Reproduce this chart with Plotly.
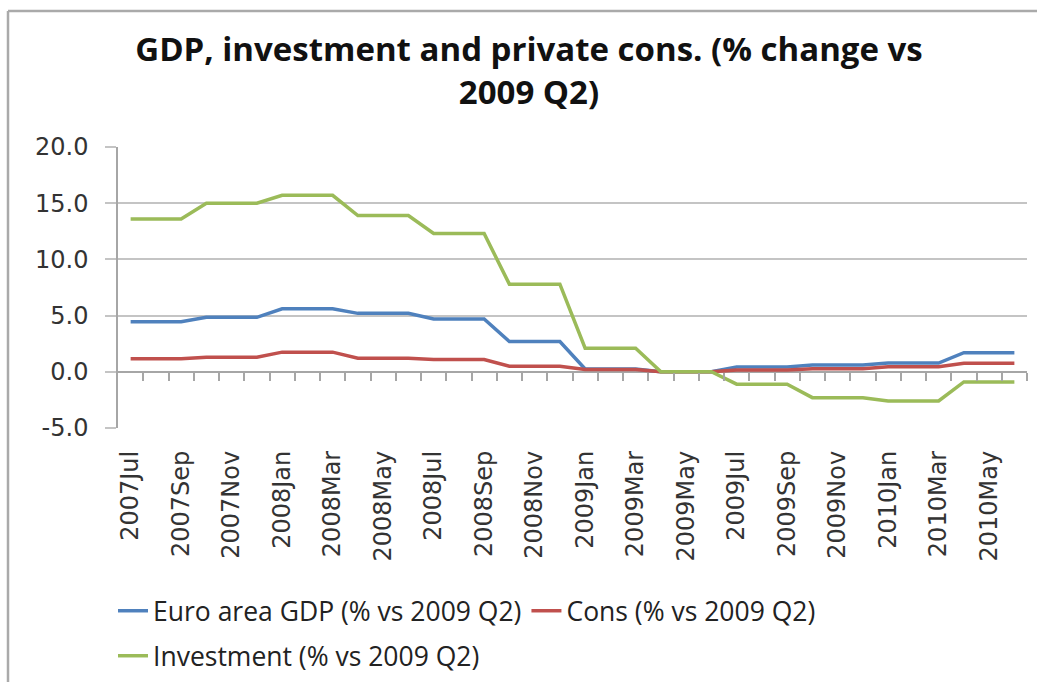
import numpy as np
import plotly.graph_objects as go

# Monthly categories, July 2007 to June 2010
months = [
    "2007Jul", "2007Aug", "2007Sep", "2007Oct", "2007Nov", "2007Dec",
    "2008Jan", "2008Feb", "2008Mar", "2008Apr", "2008May", "2008Jun",
    "2008Jul", "2008Aug", "2008Sep", "2008Oct", "2008Nov", "2008Dec",
    "2009Jan", "2009Feb", "2009Mar", "2009Apr", "2009May", "2009Jun",
    "2009Jul", "2009Aug", "2009Sep", "2009Oct", "2009Nov", "2009Dec",
    "2010Jan", "2010Feb", "2010Mar", "2010Apr", "2010May", "2010Jun",
]

# % change vs 2009 Q2 (quarterly level repeated for each month of the quarter)
gdp = [
    4.45, 4.45, 4.45, 4.85, 4.85, 4.85,
    5.6, 5.6, 5.6, 5.2, 5.2, 5.2,
    4.7, 4.7, 4.7, 2.7, 2.7, 2.7,
    0.25, 0.25, 0.25, 0.0, 0.0, 0.0,
    0.42, 0.42, 0.42, 0.6, 0.6, 0.6,
    0.78, 0.78, 0.78, 1.7, 1.7, 1.7,
]
cons = [
    1.15, 1.15, 1.15, 1.3, 1.3, 1.3,
    1.75, 1.75, 1.75, 1.2, 1.2, 1.2,
    1.1, 1.1, 1.1, 0.5, 0.5, 0.5,
    0.2, 0.2, 0.2, 0.0, 0.0, 0.0,
    0.15, 0.15, 0.15, 0.28, 0.28, 0.28,
    0.45, 0.45, 0.45, 0.75, 0.75, 0.75,
]
investment = [
    13.6, 13.6, 13.6, 15.0, 15.0, 15.0,
    15.7, 15.7, 15.7, 13.9, 13.9, 13.9,
    12.3, 12.3, 12.3, 7.8, 7.8, 7.8,
    2.1, 2.1, 2.1, 0.0, 0.0, 0.0,
    -1.1, -1.1, -1.1, -2.3, -2.3, -2.3,
    -2.6, -2.6, -2.6, -0.9, -0.9, -0.9,
]

series_names = [
    "Euro area GDP (% vs 2009 Q2)",
    "Cons (% vs 2009 Q2)",
    "Investment (% vs 2009 Q2)",
]
colors = ["#4F81BD", "#C0504D", "#9BBB59"]

y_ticks = [-5, 0, 5, 10, 15, 20]
y_tick_text = ["-5.0", "0.0", "5.0", "10.0", "15.0", "20.0"]
x_tick_labels = months[::2]

W, H = 1037, 682
ML, MR, MT, MB = 118, 10, 147, 254
PW, PH = W - ML - MR, H - MT - MB

def px_x(p):
    return (p - ML) / PW

def px_y(q):
    return (H - MB - q) / PH

AXIS_GREY = "#A6A6A6"
GRID_GREY = "#C4C4C4"
TEXT_FONT = dict(family="DejaVu Sans", size=24, color="#333333")
LEGEND_FONT = dict(family="Open Sans", size=26.5, color="#222222")

fig = go.Figure()

legends = ["legend", "legend", "legend2"]
for name, vals, col, lg in zip(series_names, [gdp, cons, investment], colors, legends):
    fig.add_trace(go.Scatter(
        x=months, y=vals, name=name, mode="lines",
        line=dict(color=col, width=3.5),
        legend=lg,
    ))

# companion axis carrying the category tick marks along the zero line
fig.add_trace(go.Scatter(x=[], y=[], xaxis="x2", showlegend=False, hoverinfo="skip"))

n = len(months)
y0_frac = (0 - y_ticks[0]) / (y_ticks[-1] - y_ticks[0])

fig.update_layout(
    width=W, height=H,
    margin=dict(l=ML, r=MR, t=MT, b=MB, autoexpand=False),
    paper_bgcolor="white", plot_bgcolor="white",
    title=dict(
        text="GDP, investment and private cons. (% change vs<br>2009 Q2)",
        x=529 / W, xanchor="center", xref="container",
        y=1 - 61 / H, yanchor="top", yref="container",
        font=dict(family="Open Sans", size=33, color="#111111", weight="bold"),
    ),
    xaxis=dict(
        type="category", range=[-0.5, n - 0.5],
        tickmode="array", tickvals=x_tick_labels, ticktext=x_tick_labels,
        tickangle=-90, ticks="", showgrid=False, showline=False, zeroline=False,
        tickfont=TEXT_FONT, ticklabelstandoff=17, automargin=False,
    ),
    xaxis2=dict(
        overlaying="x", anchor="free", position=y0_frac, side="bottom",
        range=[-0.5, n - 0.5], tickmode="array",
        tickvals=list(np.arange(n) + 0.5), showticklabels=False,
        ticks="outside", ticklen=8, tickwidth=1.5, tickcolor=AXIS_GREY,
        showgrid=False, showline=False, zeroline=False,
    ),
    yaxis=dict(
        range=[y_ticks[0], y_ticks[-1]], tickmode="array",
        tickvals=y_ticks, ticktext=y_tick_text,
        ticks="outside", ticklen=11, tickwidth=1.5, tickcolor=GRID_GREY,
        showgrid=True, gridcolor=GRID_GREY, gridwidth=1.5,
        showline=True, linecolor=AXIS_GREY, linewidth=1.5,
        zeroline=True, zerolinecolor=AXIS_GREY, zerolinewidth=1.5,
        tickfont=TEXT_FONT, ticklabelstandoff=12, automargin=False,
    ),
    legend=dict(
        orientation="h", x=px_x(113), xanchor="left", y=px_y(611), yanchor="middle",
        font=LEGEND_FONT, bgcolor="rgba(0,0,0,0)", itemclick=False, traceorder="normal",
    ),
    legend2=dict(
        orientation="h", x=px_x(113), xanchor="left", y=px_y(656), yanchor="middle",
        font=LEGEND_FONT, bgcolor="rgba(0,0,0,0)", itemclick=False,
    ),
    shapes=[
        dict(type="line", xref="paper", yref="paper",
             x0=px_x(8), x1=px_x(W + 5), y0=px_y(11), y1=px_y(11),
             line=dict(color="#AAAAAA", width=2.5)),
        dict(type="line", xref="paper", yref="paper",
             x0=px_x(8), x1=px_x(8), y0=px_y(11), y1=px_y(H + 5),
             line=dict(color="#AAAAAA", width=2.5)),
    ],
    showlegend=True,
)

fig.write_html("out.html")
